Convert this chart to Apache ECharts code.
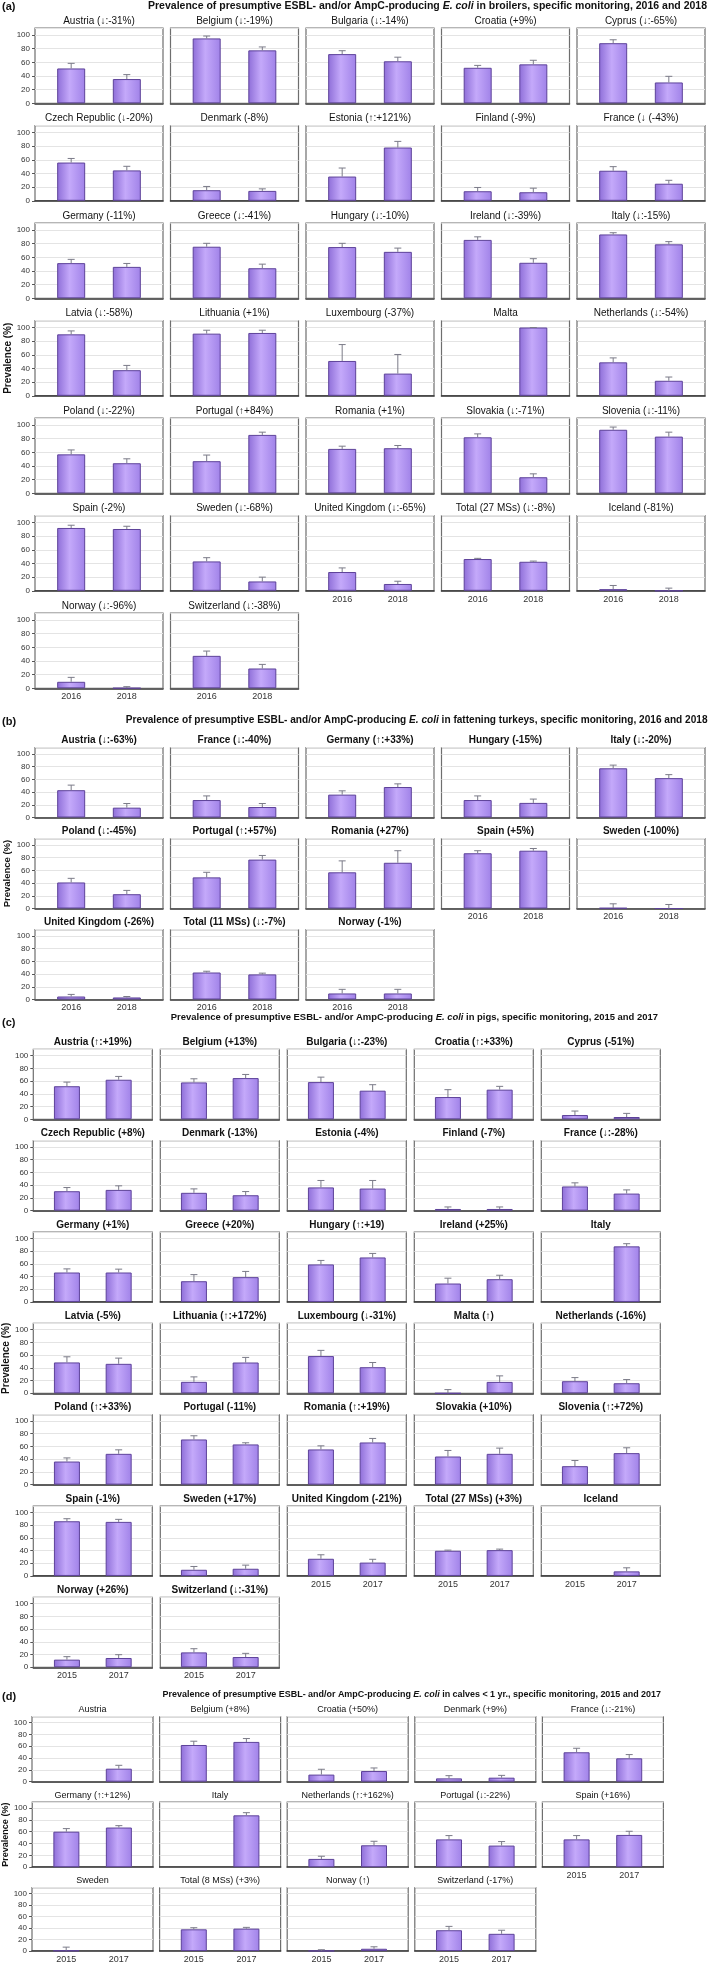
<!DOCTYPE html>
<html><head><meta charset="utf-8">
<script src="https://cdn.jsdelivr.net/npm/echarts@6/dist/echarts.min.js"></script>
<style>html,body{margin:0;padding:0;background:#fff}#c{width:709px;height:1964px}</style>
</head><body><div id="c"></div>
<script>
// ---------------- DATA ----------------
const broilerLabels = ['Austria (↓:-31%)','Belgium (↓:-19%)','Bulgaria (↓:-14%)','Croatia (+9%)','Cyprus (↓:-65%)',
 'Czech Republic (↓-20%)','Denmark (-8%)','Estonia (↑:+121%)','Finland (-9%)','France (↓ (-43%)',
 'Germany (-11%)','Greece (↓:-41%)','Hungary (↓:-10%)','Ireland (↓:-39%)','Italy (↓:-15%)',
 'Latvia (↓:-58%)','Lithuania (+1%)','Luxembourg (-37%)','Malta','Netherlands (↓:-54%)',
 'Poland (↓:-22%)','Portugal (↑+84%)','Romania (+1%)','Slovakia (↓:-71%)','Slovenia (↓:-11%)',
 'Spain (-2%)','Sweden (↓:-68%)','United Kingdom (↓:-65%)','Total (27 MSs) (↓:-8%)','Iceland (-81%)',
 'Norway (↓:-96%)','Switzerland (↓:-38%)'];
const broilerYears = ['2016','2018'];
const broiler2016 = [51,95,72,52,88, 56,15.5,35.5,14,44, 51.5,75.5,75,85.5,93.5, 90,91,51,null,49, 57,47,65,82,93, 92,43,27.5,46.5,2.4, 9.5,47.5];
const broiler2016Upper = [58.5,98.5,77,55.5,93, 62,21,48,19.5,50, 57,80.5,80.5,90,96, 95,96,75,null,55.5, 63.5,56,69,87,97, 96,48.5,33.5,47.5,7.8, 16,54.5];
const broiler2018 = [35.5,77.5,61.5,57,30.5, 44.5,14.5,78,12.5,25, 46,44,68,52,79, 37.5,92,32.5,100,22, 44,85.5,66,23.5,83, 90.5,13.7,10,42.5,0, 0.3,29];
const broiler2018Upper = [42,82.5,67.5,63,39.5, 50.5,17.5,87,18.5,30, 51,50,73.5,58,83, 44.5,96,60.5,100,27.5, 50.5,89.5,70,28.5,89.5, 94.5,20,14,43.5,3.9, 2.4,35];

const turkeyLabels = ['Austria (↓:-63%)','France (↓:-40%)','Germany (↑:+33%)','Hungary (-15%)','Italy (↓:-20%)',
 'Poland (↓:-45%)','Portugal (↑:+57%)','Romania (+27%)','Spain (+5%)','Sweden (-100%)',
 'United Kingdom (-26%)','Total (11 MSs) (↓:-7%)','Norway (-1%)'];
const turkeyYears = ['2016','2018'];
const turkey2016 = [43,27.5,36,27.5,77.5, 41,49,57,87,0.8, 4.7,42.5,9.5];
const turkey2016Upper = [51,34,42,34,82.5, 47.5,57,75,91,7.4, 8,44.5,16];
const turkey2018 = [15.5,16.5,48,23,62, 22.5,77,72,91,0, 3.2,39.5,9.5];
const turkey2018Upper = [22,22,53,29,67.5, 28.5,83.5,91,94.5,6.3, 4.7,41.5,16];

const pigLabels = ['Austria (↑:+19%)','Belgium (+13%)','Bulgaria (↓:-23%)','Croatia (↑:+33%)','Cyprus (-51%)',
 'Czech Republic (+8%)','Denmark (-13%)','Estonia (-4%)','Finland (-7%)','France (↓:-28%)',
 'Germany (+1%)','Greece (+20%)','Hungary (↑:+19)','Ireland (+25%)','Italy',
 'Latvia (-5%)','Lithuania (↑:+172%)','Luxembourg (↓-31%)','Malta (↑)','Netherlands (-16%)',
 'Poland (↑:+33%)','Portugal (-11%)','Romania (↑:+19%)','Slovakia (+10%)','Slovenia (↑:+72%)',
 'Spain (-1%)','Sweden (+17%)','United Kingdom (-21%)','Total (27 MSs) (+3%)','Iceland',
 'Norway (+26%)','Switzerland (↓:-31%)'];
const pigYears = ['2015','2017'];
const pig2015 = [52,58,58.5,35,6.7, 30.5,28,36.5,2.6,38, 46.3,32.6,59,29,null, 48.5,18,58.5,0,19, 36.3,71,55.3,44.2,29, 86,9.7,27,39.6,null, 12,23.4];
const pig2015Upper = [58.5,63.7,66.3,46.6,13, 36.3,34.2,47.4,5.8,43.7, 52,43,65.3,37.4,null, 57.4,25.8,67.5,5.8,24.7, 42,76.8,61,53.7,37.9, 90,14.9,33.3,40.6,null, 16.7,29.2];
const pig2017 = [62.2,64.8,45,46.6,3.6, 32.6,24.2,34.7,2.6,26.8, 46.3,39,70,35.8,87.4, 46.3,48.4,41,17.9,15.8, 48.4,63.2,66.3,48.4,49.5, 85,11.3,21,40.6,7.2, 14.6,16.1];
const pig2017Upper = [67.4,70.5,54.4,51.8,9.3, 39,30,47.4,5.8,32.6, 51.6,48,76.3,42,91.6, 55.3,56.4,48.4,27.4,21.6, 54.7,65.8,72.6,57.4,57.9, 89,17,26.2,42.2,12.8, 19.8,21.9];

const calfLabels = ['Austria','Belgium (+8%)','Croatia (+50%)','Denmark (+9%)','France (↓:-21%)',
 'Germany (↑:+12%)','Italy','Netherlands (↑:+162%)','Portugal (↓:-22%)','Spain (+16%)',
 'Sweden','Total (8 MSs) (+3%)','Norway (↑)','Switzerland (-17%)'];
const calfYears = ['2015','2017'];
const calf2015 = [null,62,12,5.6,49.7, 60,null,14,47,47, 0.8,37.6,0.3,36];
const calf2015Upper = [null,68.4,21,10.2,56.5, 65.2,null,18.5,53.4,53.4, 6.7,40.4,2.2,42.7];
const calf2017 = [22,67.2,18,6.8,39.5, 67,87.6,37,36.5,54.5, null,38.8,3.9,29.8];
const calf2017Upper = [27.7,72.9,23.2,10.7,45.8, 70.2,92.1,43.8,43.3,60.7, null,41,7.3,36];

const sectionLetters = ['(a)','(b)','(c)','(d)'];
const titlePrefix = 'Prevalence of presumptive ESBL- and/or AmpC-producing ';
const titleItalic = 'E. coli';
const titleSuffixes = [' in broilers, specific monitoring, 2016 and 2018',
 ' in fattening turkeys, specific monitoring, 2016 and 2018',
 ' in pigs, specific monitoring, 2015 and 2017',
 ' in calves < 1 yr., specific monitoring, 2015 and 2017'];
const yAxisTitle = 'Prevalence (%)';

// ---------------- LAYOUT / STYLE ----------------
const FONT = '"Liberation Sans", Arial, Helvetica, sans-serif';
const sections = [
 {labels:broilerLabels, years:broilerYears, v1:broiler2016, u1:broiler2016Upper, v2:broiler2018, u2:broiler2018Upper,
  L:{left0:35, pitch:135.5, w:128, zero0:103.3, rowPitch:97.5, unit:0.683, tFont:10, tWeight:'normal', tOff:7.3, barW:28,
     headY:5.8, letterY:7, headSize:10.5, headRight:2, yNameIdx:15, yNameSize:10}},
 {labels:turkeyLabels, years:turkeyYears, v1:turkey2016, u1:turkey2016Upper, v2:turkey2018, u2:turkey2018Upper,
  L:{left0:35, pitch:135.5, w:128, zero0:817.5, rowPitch:91, unit:0.635, tFont:10, tWeight:'bold', tOff:7.5, barW:28,
     headY:720, letterY:722, headSize:10.1, headRight:1.5, yNameIdx:5, yNameSize:9.5}},
 {labels:pigLabels, years:pigYears, v1:pig2015, u1:pig2015Upper, v2:pig2017, u2:pig2017Upper,
  L:{left0:33.3, pitch:127, w:119, zero0:1119.3, rowPitch:91.33, unit:0.636, tFont:10, tWeight:'bold', tOff:7, barW:26,
     headY:1017.7, letterY:1022.7, headSize:9.45, headRight:51, yNameIdx:15, yNameSize:10}},
 {labels:calfLabels, years:calfYears, v1:calf2015, u1:calf2015Upper, v2:calf2017, u2:calf2017Upper,
  L:{left0:32, pitch:127.6, w:121, zero0:1781.7, rowPitch:85.5, unit:0.592, tFont:9, tWeight:'normal', tOff:6.7, barW:26,
     headY:1695, letterY:1697, headSize:8.95, headRight:48, yNameIdx:5, yNameSize:9}}
];

const barColor = {type:'linear', x:0, y:0, x2:1, y2:0, colorStops:[
  {offset:0, color:'#8e6ed8'},{offset:0.45, color:'#c4a9fa'},{offset:1, color:'#a082e8'}]};
const errColor = '#7b7b88';

function renderErr(params, api){
  const x = api.value(0), v = api.value(1), u = api.value(2);
  const p0 = api.coord([x, v]), p1 = api.coord([x, u]);
  const cap = 3.5;
  return {type:'group', children:[
    {type:'line', shape:{x1:p0[0], y1:p0[1], x2:p1[0], y2:p1[1]}, style:{stroke:errColor, lineWidth:1}},
    {type:'line', shape:{x1:p1[0]-cap, y1:p1[1], x2:p1[0]+cap, y2:p1[1]}, style:{stroke:errColor, lineWidth:1}}
  ]};
}

const option = {animation:false, backgroundColor:'#fff', textStyle:{fontFamily:FONT},
  title:[], grid:[], xAxis:[], yAxis:[], series:[]};

sections.forEach((s, si) => {
  const L = s.L, n = s.labels.length;
  const h = 110 * L.unit;
  option.title.push({text:sectionLetters[si], left:2, top:L.letterY - 6.5, padding:0,
    textStyle:{fontSize:11, fontWeight:'bold', color:'#111', fontFamily:FONT, lineHeight:13}});
  option.title.push({text:'{b|' + titlePrefix + '}{i|' + titleItalic + '}{b|' + titleSuffixes[si] + '}',
    right:L.headRight, top:L.headY - (L.headSize+2)/2, padding:0,
    textStyle:{fontFamily:FONT, rich:{
      b:{fontSize:L.headSize, fontWeight:'bold', color:'#111', fontFamily:FONT, lineHeight:L.headSize+2},
      i:{fontSize:L.headSize, fontWeight:'bold', fontStyle:'italic', color:'#111', fontFamily:FONT, lineHeight:L.headSize+2}}}});
  for (let i = 0; i < n; i++) {
    const row = Math.floor(i/5), col = i % 5;
    const left = L.left0 + col*L.pitch;
    const zero = L.zero0 + row*L.rowPitch;
    const top = zero - h;
    const gi = option.grid.length;
    option.grid.push({left:left, top:top, width:L.w, height:h, show:true, borderColor:'#6e6e6e', borderWidth:1.2,
      backgroundColor:'#fff', containLabel:false});
    option.title.push({text:s.labels[i], left:left + L.w/2, textAlign:'center', top:top - L.tOff - (L.tFont+2)/2, padding:0,
      textStyle:{fontSize:L.tFont, fontWeight:L.tWeight, color:'#111', fontFamily:FONT, lineHeight:L.tFont+2}});
    const showX = (i + 5 >= n);
    const years = s.years;
    option.xAxis.push({gridIndex:gi, type:'value', min:0.35, max:2.65,
      axisLine:{show:true, onZero:false, lineStyle:{color:'#333', width:1.5}},
      axisTick:{show:false}, splitLine:{show:false},
      axisLabel:{show:showX, customValues:[1,2], margin:4, fontSize:9, color:'#333', fontFamily:FONT,
        formatter:(v)=> v===1?years[0]:(v===2?years[1]:'')}});
    const yax = {gridIndex:gi, type:'value', min:0, max:110, interval:20,
      axisLine:{show:false},
      axisTick:{show:col===0, length:3, lineStyle:{color:'#555'}},
      splitLine:{show:true, lineStyle:{color:'#e4e4e4', width:1}},
      axisLabel:{show:col===0, showMaxLabel:false, margin:5, fontSize:8, color:'#333', fontFamily:FONT,
        formatter:(v)=> v>100?'':String(v)}};
    if (i === L.yNameIdx) {
      Object.assign(yax, {name:yAxisTitle, nameLocation:'middle', nameRotate:90, nameGap:21,
        nameTextStyle:{fontSize:L.yNameSize, fontWeight:'bold', color:'#111', fontFamily:FONT}});
    }
    option.yAxis.push(yax);
    const barData = [], errData = [];
    if (s.v1[i] !== null) { barData.push([1, s.v1[i]]); if (s.u1[i] !== null) errData.push([1, s.v1[i], s.u1[i]]); }
    if (s.v2[i] !== null) { barData.push([2, s.v2[i]]); if (s.u2[i] !== null) errData.push([2, s.v2[i], s.u2[i]]); }
    option.series.push({type:'bar', xAxisIndex:gi, yAxisIndex:gi, barWidth:L.barW, data:barData,
      itemStyle:{color:barColor, borderColor:'#5d4299', borderWidth:1}, silent:true});
    option.series.push({type:'custom', xAxisIndex:gi, yAxisIndex:gi, renderItem:renderErr, data:errData, z:3, silent:true});
  }
});

const chart = echarts.init(document.getElementById('c'), null, {renderer:'canvas'});
chart.setOption(option);
</script></body></html>
